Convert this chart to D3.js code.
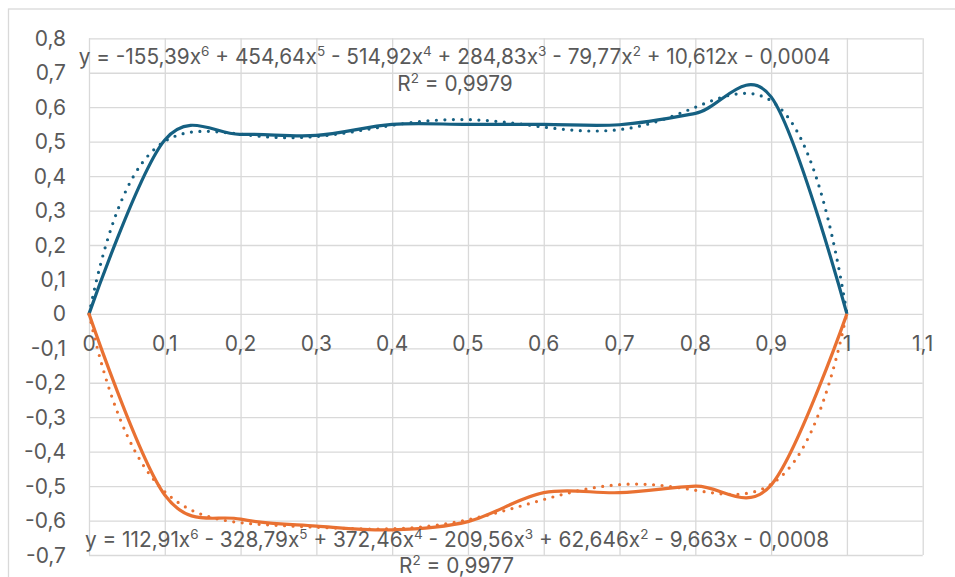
<!DOCTYPE html>
<html lang="en">
<head>
    <meta charset="UTF-8">
    <title>Polynomial trendlines</title>
    <script src="https://d3js.org/d3.v7.min.js"></script>
    <style>
        body {
            margin: 0;
            padding: 0;
            background-color: white;
        }
        svg {
            display: block;
            font-family: Inter, 'Open Sans', sans-serif;
        }
        .grid line {
            stroke: #d9d9d9;
            stroke-width: 1.3;
        }
        .grid path {
            display: none;
        }
        .tick-label {
            fill: #595959;
            font-size: 21px;
        }
        .eq {
            fill: #595959;
            font-size: 20.8px;
        }
    </style>
</head>
<body>
    <div id="chart"></div>

    <script type="text/javascript">
        // measured series (smoothed line in the original chart)
        const xValues = [0, 0.1, 0.2, 0.3, 0.4, 0.5, 0.6, 0.7, 0.8, 0.9, 1];
        const upperValues = [0, 0.505, 0.521, 0.518, 0.55, 0.55, 0.55, 0.549, 0.582, 0.63, 0];
        const lowerValues = [0, -0.526, -0.596, -0.616, -0.627, -0.603, -0.519, -0.519, -0.50, -0.497, 0];

        // trendline coefficients as printed on the chart, x^6 down to x^0
        const upperTrendCoefs = [-155.39, 454.64, -514.92, 284.83, -79.77, 10.612, -0.0004];
        const lowerTrendCoefs = [112.91, -328.79, 372.46, -209.56, 62.646, -9.663, -0.0008];

        const xTicks = [0, 0.1, 0.2, 0.3, 0.4, 0.5, 0.6, 0.7, 0.8, 0.9, 1, 1.1];
        const xTickLabels = ["0", "0,1", "0,2", "0,3", "0,4", "0,5", "0,6", "0,7", "0,8", "0,9", "1", "1,1"];
        const yTicks = [0.8, 0.7, 0.6, 0.5, 0.4, 0.3, 0.2, 0.1, 0, -0.1, -0.2, -0.3, -0.4, -0.5, -0.6, -0.7];
        const yTickLabels = ["0,8", "0,7", "0,6", "0,5", "0,4", "0,3", "0,2", "0,1", "0",
                             "-0,1", "-0,2", "-0,3", "-0,4", "-0,5", "-0,6", "-0,7"];

        const upperEquation = ["y = -155,39x", "6", " + 454,64x", "5", " - 514,92x", "4", " + 284,83x", "3",
                               " - 79,77x", "2", " + 10,612x - 0,0004"];
        const lowerEquation = ["y = 112,91x", "6", " - 328,79x", "5", " + 372,46x", "4", " - 209,56x", "3",
                               " + 62,646x", "2", " - 9,663x - 0,0008"];
        const upperR2 = "0,9979";
        const lowerR2 = "0,9977";

        const blue = "#156082";
        const orange = "#E97132";

        const width = 955, height = 577;
        const plot = {left: 89, right: 922.7, top: 38.3, bottom: 555};

        const svg = d3.select("#chart").append("svg")
            .attr("width", width)
            .attr("height", height);

        svg.append("rect")
            .attr("x", 8.5).attr("y", 9)
            .attr("width", 1000).attr("height", 600)
            .attr("fill", "white")
            .attr("stroke", "#d9d9d9")
            .attr("stroke-width", 1.3);

        const x = d3.scaleLinear().domain([0, 1.1]).range([plot.left, plot.right]);
        const y = d3.scaleLinear().domain([-0.7, 0.8]).range([plot.bottom, plot.top]);

        // gridlines
        svg.append("g")
            .attr("class", "grid")
            .attr("transform", `translate(0,${plot.bottom})`)
            .call(d3.axisBottom(x).tickValues(xTicks).tickSize(-(plot.bottom - plot.top)).tickFormat(""));

        svg.append("g")
            .attr("class", "grid")
            .attr("transform", `translate(${plot.left},0)`)
            .call(d3.axisLeft(y).tickValues(yTicks).tickSize(-(plot.right - plot.left)).tickFormat(""));

        // y tick labels
        svg.append("g")
            .selectAll("text")
            .data(yTicks)
            .join("text")
            .attr("class", "tick-label")
            .attr("x", 66)
            .attr("y", d => y(d))
            .attr("dy", "0.36em")
            .attr("text-anchor", "end")
            .text((d, i) => yTickLabels[i]);

        // x tick labels sit under the zero line
        svg.append("g")
            .selectAll("text")
            .data(xTicks)
            .join("text")
            .attr("class", "tick-label")
            .attr("x", d => x(d))
            .attr("y", y(0) + 37.5)
            .attr("text-anchor", "middle")
            .text((d, i) => xTickLabels[i]);

        const smooth = d3.line()
            .x(d => x(d[0]))
            .y(d => y(d[1]))
            .curve(d3.curveCardinal.tension(0));

        function polyval(coefs, t) {
            return coefs.reduce((acc, c) => acc * t + c, 0);
        }

        const trendX = d3.range(0, 1.0001, 0.01);

        function drawSeries(values, coefs, color) {
            svg.append("path")
                .datum(xValues.map((d, i) => [d, values[i]]))
                .attr("d", smooth)
                .attr("fill", "none")
                .attr("stroke", color)
                .attr("stroke-width", 3.2)
                .attr("stroke-linejoin", "round");

            svg.append("path")
                .datum(trendX.map(t => [t, polyval(coefs, t)]))
                .attr("d", smooth)
                .attr("fill", "none")
                .attr("stroke", color)
                .attr("stroke-width", 3.2)
                .attr("stroke-linecap", "round")
                .attr("stroke-dasharray", "0 8.5");
        }

        drawSeries(upperValues, upperTrendCoefs, blue);
        drawSeries(lowerValues, lowerTrendCoefs, orange);

        function drawEquation(parts, cx, baseline) {
            const t = svg.append("text")
                .attr("class", "eq")
                .attr("x", cx)
                .attr("y", baseline)
                .attr("text-anchor", "middle");
            parts.forEach((p, i) => {
                if (i % 2 === 1) {
                    t.append("tspan").attr("dy", -8).attr("font-size", "13.5px").text(p);
                } else {
                    t.append("tspan").attr("dy", i === 0 ? 0 : 8).text(p);
                }
            });
        }

        function drawR2(value, cx, baseline) {
            const t = svg.append("text")
                .attr("class", "eq")
                .attr("x", cx)
                .attr("y", baseline)
                .attr("text-anchor", "middle");
            t.append("tspan").text("R");
            t.append("tspan").attr("dy", -8).attr("font-size", "13.5px").text("2");
            t.append("tspan").attr("dy", 8).text(" = " + value);
        }

        drawEquation(upperEquation, 454.5, 63.5);
        drawR2(upperR2, 455, 90.5);
        drawEquation(lowerEquation, 457, 546.5);
        drawR2(lowerR2, 456.5, 573);
    </script>
</body>
</html>
